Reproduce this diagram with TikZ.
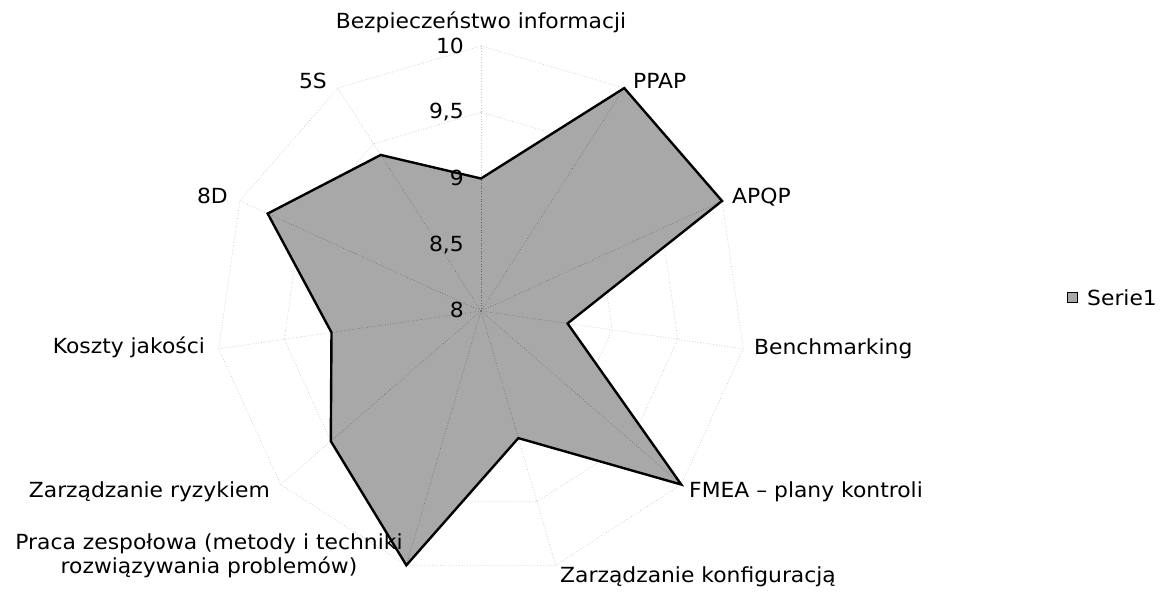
\documentclass[tikz,border=0pt]{standalone}
\usepackage{fontspec}
\setmainfont{DejaVu Sans}[FakeStretch=1.05]
\usetikzlibrary{calc}

\begin{document}
\begin{tikzpicture}[x=1pt,y=-1pt,
  lbl/.style={font=\fontsize{20.8}{24}\selectfont, inner sep=0pt, text=black},
  gridline/.style={gray!45, dotted, line width=0.7pt},
  spokein/.style={black!60, dotted, line width=0.6pt},
  area/.style={fill=black!34},
  outline/.style={draw=black, line width=2.4pt, line join=miter}]
\useasboundingbox (0,0) rectangle (1160,598);

% chart centre; one unit of the scale (8 .. 10) is 132.5 px
\coordinate (C) at (481,311);

% grid polygons at 8.5, 9, 9.5 and 10, and the eleven spokes
\foreach \lev in {1,2,3,4}{
  \draw[gridline] ($(C)+(90:{\lev*66.25pt})$)
    \foreach \k in {1,...,10}{ -- ($(C)+({90-\k*360/11}:{\lev*66.25pt})$) } -- cycle;
}
\foreach \k in {0,...,10}{
  \coordinate (s\k) at ($(C)+({90-\k*360/11}:265pt)$);
  \draw[gridline] (C) -- (s\k);
}

% data points
\foreach \v [count=\i from 0] in {9,10,10,8.66,10,9,10,9.5,9.14,9.77,9.4}{
  \coordinate (p\i) at ($(C)+({90-\i*360/11}:{(\v-8)*132.5pt})$);
}

% filled series
\fill[area] (p0) -- (p1) -- (p2) -- (p3) -- (p4) -- (p5) -- (p6) -- (p7) -- (p8) -- (p9) -- (p10) -- cycle;
\begin{scope}
  \clip (p0) -- (p1) -- (p2) -- (p3) -- (p4) -- (p5) -- (p6) -- (p7) -- (p8) -- (p9) -- (p10) -- cycle;
  \foreach \k in {0,...,10}{ \draw[spokein] (C) -- (s\k); }
\end{scope}
\draw[outline] (p0) -- (p1) -- (p2) -- (p3) -- (p4) -- (p5) -- (p6) -- (p7) -- (p8) -- (p9) -- (p10) -- cycle;

% scale labels on the vertical axis
\node[lbl, anchor=base east] (v10) at (464,53) {10};
\node[lbl, anchor=base east] (v95) at (464,118) {9,5};
\node[lbl, anchor=base east] (v9) at (464,185) {9};
\node[lbl, anchor=base east] (v85) at (464,251) {8,5};
\node[lbl, anchor=base east] (v8) at (464,317) {8};

% category labels
\node[lbl, anchor=base] (lBez) at (481,28) {Bezpieczeństwo informacji};
\node[lbl, anchor=base west] (lPPAP) at (633,88) {PPAP};
\node[lbl, anchor=base west] (lAPQP) at (732,203) {APQP};
\node[lbl, anchor=base west] (lBench) at (754,354) {Benchmarking};
\node[lbl, anchor=base west] (lFMEA) at (689,497) {FMEA – plany kontroli};
\node[lbl, anchor=base] (lKonf) at (698,582) {Zarządzanie konfiguracją};
\node[lbl, align=center] (lPraca) at (209,556) {Praca zespołowa (metody i techniki\\rozwiązywania problemów)};
\node[lbl, anchor=base east] (lRyz) at (270,497) {Zarządzanie ryzykiem};
\node[lbl, anchor=base east] (lKoszt) at (205,353) {Koszty jakości};
\node[lbl, anchor=base east] (l8D) at (228,203) {8D};
\node[lbl, anchor=base east] (l5S) at (327,88) {5S};

% legend
\node[draw=black, line width=1pt, fill=black!34, minimum size=10pt, inner sep=0pt] (key) at (1072,297) {};
\node[lbl, anchor=base west] (lSerie) at (1087,305) {Serie1};
\end{tikzpicture}
\end{document}
